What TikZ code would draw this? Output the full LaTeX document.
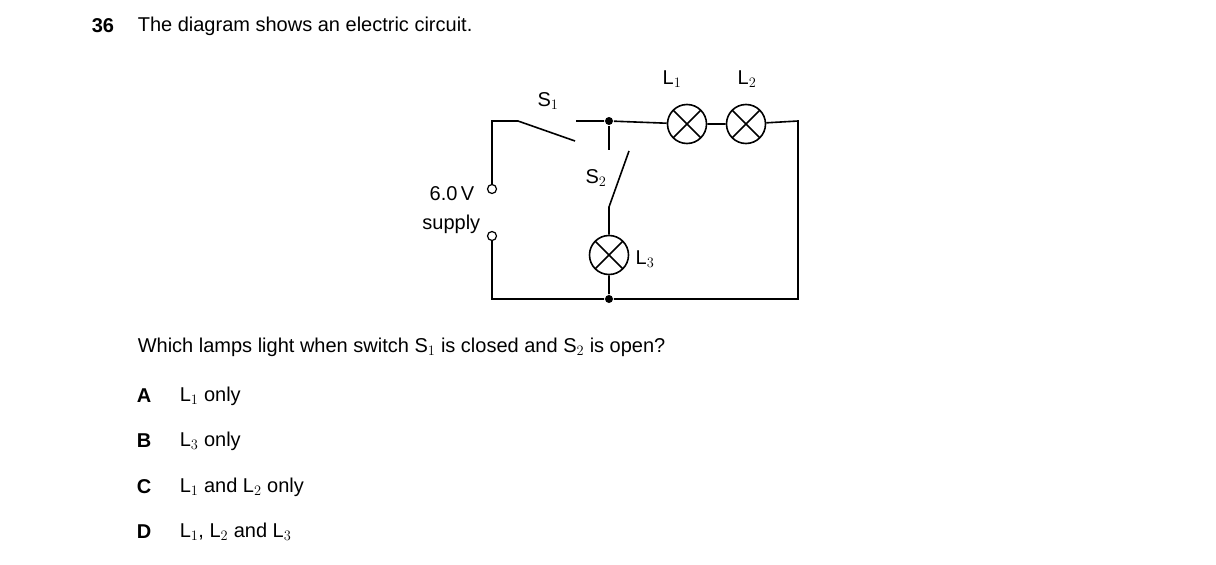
\documentclass[tikz,border=0pt]{standalone}
\usepackage{fontspec}
\setmainfont{Liberation Sans}
\begin{document}
\begin{tikzpicture}[x=1pt,y=-1pt,line width=1.6pt,
  lamp/.style={draw,circle,minimum size=39pt,inner sep=0pt,
    path picture={\draw (path picture bounding box.north west)--(path picture bounding box.south east)
      (path picture bounding box.north east)--(path picture bounding box.south west);}},
  term/.style={draw,circle,fill=white,minimum size=9pt,inner sep=0pt,line width=1.2pt},
  dot/.style={circle,fill,minimum size=8pt,inner sep=0pt},
  txt/.style={font=\fontsize{20}{24}\selectfont,inner sep=0pt}]
\useasboundingbox (0,0) rectangle (1216,565);
% circuit
\node[lamp] (LA) at (687,124) {};
\node[lamp] (LB) at (746,124) {};
\node[lamp] (LC) at (609,255) {};
\node[dot] (JT) at (609,121) {};
\node[dot] (JB) at (609,299) {};
\node[term] (TA) at (492,189) {};
\node[term] (TB) at (492,236) {};
\coordinate (TL) at (492,121);
\coordinate (BL) at (492,299);
\coordinate (TR) at (798,121);
\coordinate (BR) at (798,299);
\coordinate (SA) at (518,121);
\coordinate (SB) at (575,141);
\coordinate (SC) at (576,121);
\coordinate (SD) at (609,150);
\coordinate (SE) at (629,151);
\coordinate (SF) at (609,207);
\draw (TA)--(TL)--(SA)--(SB);
\draw (SC)--(JT)--(LA)--(LB)--(TR)--(BR)--(JB)--(BL)--(TB);
\draw (JT)--(SD);
\draw (SE)--(SF)--(LC)--(JB);
% labels
\node[txt,font=\fontsize{20}{24}\selectfont\bfseries,anchor=west] (QN) at (91,26) {36};
\node[txt,anchor=west] (QT) at (137,26) {The diagram shows an electric circuit.};
\node[txt] (S1) at (548,101) {S$_1$};
\node[txt] (S2) at (596,178) {S$_2$};
\node[txt] (L1) at (672,79) {L$_1$};
\node[txt] (L2) at (747,79) {L$_2$};
\node[txt] (L3) at (645,259) {L$_3$};
\node[txt,anchor=east] (VV) at (475,194) {6.0\,V};
\node[txt,anchor=east] (SP) at (481,224) {supply};
\node[txt,anchor=west] (QQ) at (137,347) {Which lamps light when switch S$_1$ is closed and S$_2$ is open?};
\foreach \l/\t/\y in {A/L$_1$ only/396, B/L$_3$ only/441, C/L$_1$ and L$_2$ only/487, D/{L$_1$, L$_2$ and L$_3$}/532}{
  \node[txt,font=\fontsize{20}{24}\selectfont\bfseries] (K\l) at (144,\y) {\l};
  \node[txt,anchor=west] (O\l) at (179,\y) {\t};
}
\end{tikzpicture}
\end{document}
